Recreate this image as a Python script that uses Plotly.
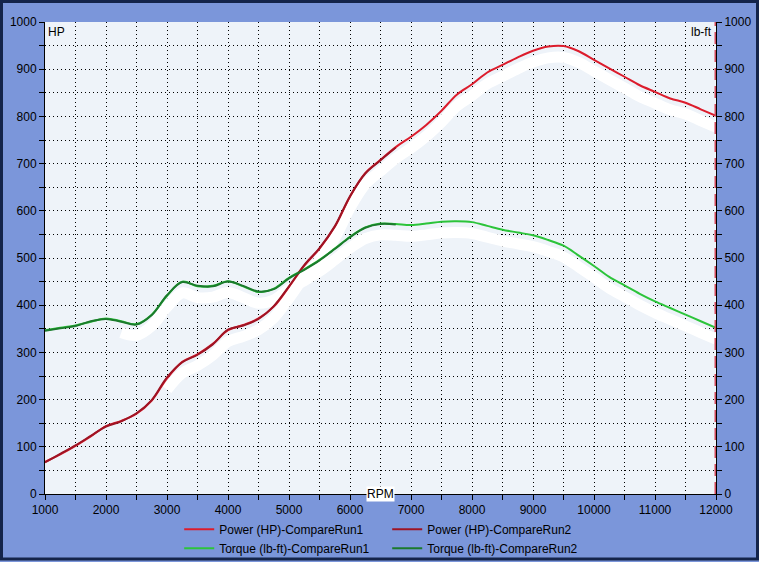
import plotly.graph_objects as go

# ---------------- data ----------------
rpm = [1000, 1250, 1500, 1750, 2000, 2250, 2500, 2750, 3000, 3250, 3500, 3750,
       4000, 4250, 4500, 4750, 5000, 5250, 5500, 5750, 6000, 6250, 6500, 6750,
       7000, 7250, 7500, 7750, 8000, 8250, 8500, 8750, 9000, 9250, 9500, 9750,
       10000, 10250, 10500, 10750, 11000, 11250, 11500, 11750, 12000]

power_run1 = [68, 84, 102, 122, 144, 155, 170, 198, 245, 280, 296, 318,
              347, 358, 372, 397, 439, 484, 520, 566, 630, 680, 708, 735,
              757, 782, 812, 846, 868, 893, 909, 925, 939, 948, 949, 938,
              920, 902, 884, 866, 852, 838, 829, 815, 801]

torque_run1 = [347, 352, 357, 365, 372, 366, 360, 380, 420, 450, 440, 441,
               451, 440, 428, 435, 458, 476, 496, 520, 545, 565, 573, 572,
               570, 573, 577, 578, 576, 568, 560, 554, 548, 538, 526, 505,
               483, 460, 442, 424, 408, 394, 380, 366, 352]

rpm_run2 = [1000, 1250, 1500, 1750, 2000, 2250, 2500, 2750, 3000, 3250, 3500, 3750,
            4000, 4250, 4500, 4750, 5000, 5250, 5500, 5750, 6000, 6250, 6500, 6750]
power_run2 = [67, 85, 103, 123, 143, 154, 171, 199, 247, 279, 295, 317,
              348, 357, 371, 398, 440, 485, 521, 567, 631, 679, 707, 734]
torque_run2 = [346, 351, 356, 366, 371, 365, 359, 379, 421, 449, 441, 440,
               450, 441, 429, 434, 457, 475, 495, 519, 544, 564, 572, 571]

x_ticks = [1000, 2000, 3000, 4000, 5000, 6000, 7000, 8000, 9000, 10000, 11000, 12000]
y_ticks = [0, 100, 200, 300, 400, 500, 600, 700, 800, 900, 1000]

# faint white "ghost" trace offset (styling)
SHADOW_DROP = 24
power_shadow_from = 3000
torque_shadow_from = 2200

# ---------------- styling ----------------
PAPER_BG = "#7b96da"
PLOT_BG = "#eef3f9"
FONT = "Liberation Sans, Arial, sans-serif"
C_P1 = "#dc1c2c"
C_P2 = "#9e1424"
C_T1 = "#2cc43a"
C_T2 = "#1b7a2c"

fig = go.Figure()

def shadow(xs, ys, start):
    sx = [x for x in xs if x >= start]
    sy = [y - SHADOW_DROP for x, y in zip(xs, ys) if x >= start]
    return sx, sy

for ys, start in ((power_run1, power_shadow_from), (torque_run1, torque_shadow_from)):
    sx, sy = shadow(rpm, ys, start)
    fig.add_trace(go.Scatter(x=sx, y=sy, mode="lines", showlegend=False,
                             line=dict(color="white", width=11, shape="spline"),
                             hoverinfo="skip"))

fig.add_trace(go.Scatter(x=rpm, y=power_run1, mode="lines", name="Power (HP)-CompareRun1",
                         line=dict(color=C_P1, width=2, shape="spline"), legend="legend"))
fig.add_trace(go.Scatter(x=rpm, y=torque_run1, mode="lines", name="Torque (lb-ft)-CompareRun1",
                         line=dict(color=C_T1, width=2, shape="spline"), legend="legend"))
fig.add_trace(go.Scatter(x=rpm_run2, y=power_run2, mode="lines", name="Power (HP)-CompareRun2",
                         line=dict(color=C_P2, width=2, shape="spline"), legend="legend2"))
fig.add_trace(go.Scatter(x=rpm_run2, y=torque_run2, mode="lines", name="Torque (lb-ft)-CompareRun2",
                         line=dict(color=C_T2, width=2, shape="spline"), legend="legend2",
                         yaxis="y2"))

GRID_DASH = "1px,3px"
grid = dict(showgrid=True, gridcolor="black", griddash=GRID_DASH, gridwidth=1)

fig.update_layout(
    width=759, height=562,
    margin=dict(l=45, r=43, t=22, b=68, autoexpand=False),
    paper_bgcolor=PAPER_BG, plot_bgcolor=PLOT_BG,
    font=dict(family=FONT, size=12, color="black"),
    xaxis=dict(range=[x_ticks[0], x_ticks[-1]], tickvals=x_ticks, tickformat="d",
               ticks="outside", ticklen=5,
               tickcolor="black", showline=True, linecolor="black", linewidth=1,
               zeroline=False, **grid,
               minor=dict(dtick=500, tick0=1000, ticks="outside", ticklen=5, tickcolor="black",
                          showgrid=True, gridcolor="black", griddash=GRID_DASH, gridwidth=1)),
    yaxis=dict(range=[y_ticks[0], y_ticks[-1]], tickvals=y_ticks, tickformat="d",
               ticks="outside", ticklen=5,
               tickcolor="black", showline=True, linecolor="black", linewidth=1,
               zeroline=False, **grid,
               minor=dict(dtick=50, tick0=0, ticks="outside", ticklen=5, tickcolor="black",
                          showgrid=True, gridcolor="black", griddash=GRID_DASH, gridwidth=1)),
    yaxis2=dict(range=[y_ticks[0], y_ticks[-1]], tickvals=y_ticks, tickformat="d",
                overlaying="y", side="right",
                ticks="outside", ticklen=5, tickcolor="black", showline=True, linecolor="black",
                linewidth=1, showgrid=False, zeroline=False,
                minor=dict(dtick=50, tick0=0, ticks="outside", ticklen=5, tickcolor="black")),
    legend=dict(orientation="v", x=0.20, xanchor="left", y=-0.044, yanchor="top",
                bgcolor="rgba(0,0,0,0)", font=dict(size=12), tracegroupgap=0),
    legend2=dict(orientation="v", x=0.51, xanchor="left", y=-0.044, yanchor="top",
                 bgcolor="rgba(0,0,0,0)", font=dict(size=12), tracegroupgap=0),
    showlegend=True,
)

# right-edge red dashed marker at max RPM
fig.add_shape(type="line", xref="x", yref="paper", x0=x_ticks[-1], x1=x_ticks[-1], y0=0, y1=1,
              line=dict(color="#d24a5c", width=3, dash="12px,6px"), layer="above")

# outer frame
pw, ph = 759 - 45 - 43, 562 - 22 - 68
fig.add_shape(type="rect", xref="paper", yref="paper",
              x0=-45 / pw + 1.5 / pw, x1=1 + 43 / pw - 1.5 / pw,
              y0=-68 / ph + 3 / ph, y1=1 + 22 / ph - 1.5 / ph,
              line=dict(color="#14244a", width=3), layer="below")

fig.add_annotation(text="HP", x=0, y=1, xref="paper", yref="paper", xanchor="left", yanchor="top",
                   showarrow=False, xshift=1, yshift=-1, font=dict(size=12))
fig.add_annotation(text="lb-ft", x=1, y=1, xref="paper", yref="paper", xanchor="right", yanchor="top",
                   showarrow=False, xshift=-2, yshift=-1, font=dict(size=12))
fig.add_annotation(text="RPM", x=0.5, y=0, xref="paper", yref="paper", xanchor="center",
                   yanchor="middle", showarrow=False, bgcolor="white", borderpad=0,
                   font=dict(size=12))

fig.write_html("out.html")
